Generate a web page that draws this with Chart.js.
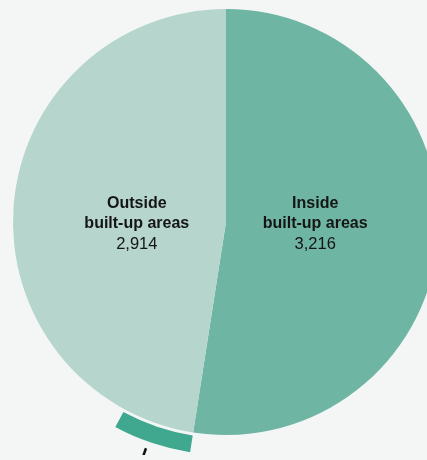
<!DOCTYPE html>
<html>
<head>
<meta charset="utf-8">
<script src="https://cdn.jsdelivr.net/npm/chart.js@4.4.1/dist/chart.umd.min.js"></script>
<style>
  html, body { margin: 0; padding: 0; background: #f3f6f5; }
  body { width: 427px; height: 460px; overflow: hidden; position: relative; }
  #wrap { position: absolute; left: -7px; top: -11px; width: 466px; height: 466px; }
</style>
</head>
<body>
<div id="wrap"><canvas id="pie"></canvas></div>
<script>
// 数据
const categories = ['Inside built-up areas', 'Outside built-up areas'];
const labelLines = [['Inside', 'built-up areas'], ['Outside', 'built-up areas']];
const values = [3216, 2914];
// part of "outside" shown as the dark outer band
const highlightValue = 332;

const colors = ['#6fb5a3', '#b5d5cd'];
const highlightColor = '#3fa88e';

// 扇区文字
const labelPlugin = {
  id: 'sliceLabels',
  afterDatasetsDraw(chart) {
    const ctx = chart.ctx;
    const pie = chart.getDatasetMeta(2);
    ctx.save();
    ctx.fillStyle = '#151515';
    ctx.textAlign = 'center';
    ctx.textBaseline = 'middle';
    pie.data.forEach((arc, i) => {
      const p = arc.getProps(['x', 'y', 'startAngle', 'endAngle', 'outerRadius']);
      const mid = (p.startAngle + p.endAngle) / 2;
      const x = p.x + Math.cos(mid) * p.outerRadius * 0.42;
      const y = p.y + 2;
      ctx.font = 'bold 16px "Liberation Sans", Arial, sans-serif';
      ctx.fillText(labelLines[i][0], x, y - 20);
      ctx.fillText(labelLines[i][1], x, y);
      ctx.font = '16.5px "Liberation Sans", Arial, sans-serif';
      ctx.fillText(values[i].toLocaleString('en-US'), x, y + 20);
    });

    // leader line from the dark band
    const band = chart.getDatasetMeta(0).data[1];
    const b = band.getProps(['x', 'y', 'startAngle', 'endAngle', 'outerRadius']);
    const m = (b.startAngle + b.endAngle) / 2 + 0.015;
    ctx.strokeStyle = '#111';
    ctx.lineWidth = 2.5;
    ctx.beginPath();
    ctx.moveTo(b.x + Math.cos(m) * (b.outerRadius + 7), b.y + Math.sin(m) * (b.outerRadius + 7));
    ctx.lineTo(b.x + Math.cos(m) * (b.outerRadius + 45), b.y + Math.sin(m) * (b.outerRadius + 45));
    ctx.stroke();
    ctx.restore();
  }
};

new Chart(document.getElementById('pie'), {
  type: 'pie',
  data: {
    labels: categories.concat(['highlight']),
    datasets: [
      {
        // outer band
        data: [values[0], highlightValue, values[1] - highlightValue],
        backgroundColor: ['rgba(0,0,0,0)', highlightColor, 'rgba(0,0,0,0)'],
        weight: 17
      },
      {
        // gap
        data: [1],
        backgroundColor: ['rgba(0,0,0,0)'],
        weight: 3
      },
      {
        data: values,
        backgroundColor: colors,
        weight: 213
      }
    ]
  },
  options: {
    responsive: true,
    maintainAspectRatio: false,
    animation: false,
    borderWidth: 0,
    elements: { arc: { borderWidth: 0, offset: 0, hoverOffset: 0 } },
    layout: { padding: 0 },
    plugins: {
      legend: { display: false },
      tooltip: { enabled: false }
    }
  },
  plugins: [labelPlugin]
});
</script>
</body>
</html>
